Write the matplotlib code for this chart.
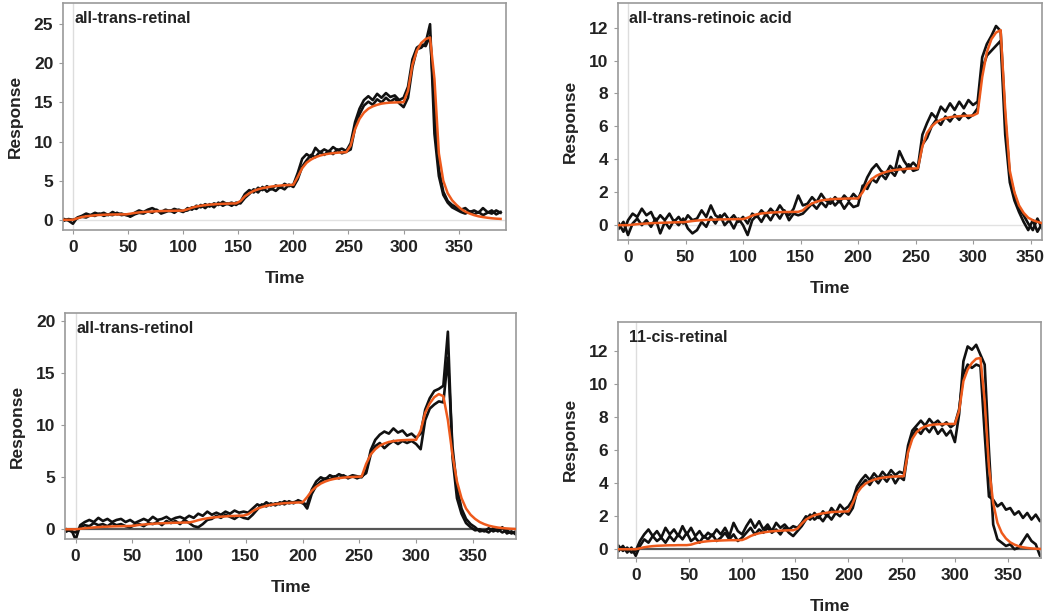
import numpy as np
import matplotlib
matplotlib.use("Agg")
import matplotlib.pyplot as plt

plt.rcParams.update({
    "font.family": ["Liberation Sans", "DejaVu Sans"],
    "font.weight": "bold",
    "font.size": 10,
    "axes.labelweight": "bold",
})

C_FIT = "#EE5A1C"
C_TRACE = "#111111"
C_SPINE = "#9a9a9a"

# ── data (4 s sampling) ─────────────────────────────────────────────────────
# panel a: all-trans-retinal, t = -8 .. 388
t_retinal = np.arange(-8, 389, 4)
retinal_fit = [
    0, 0, 0, 0.2, 0.35, 0.45, 0.52, 0.58, 0.62, 0.65, 0.67, 0.68, 0.69, 0.7, 0.7,
    0.78, 0.88, 0.95, 1.0, 1.04, 1.07, 1.1, 1.12, 1.14, 1.15, 1.16, 1.17, 1.18,
    1.35, 1.55, 1.7, 1.8, 1.88, 1.94, 1.98, 2.02, 2.05, 2.07, 2.09, 2.1,
    2.4, 3.0, 3.4, 3.7, 3.9, 4.05, 4.15, 4.25, 4.32, 4.38, 4.42, 4.45, 4.48,
    5.5, 6.6, 7.3, 7.7, 8.0, 8.2, 8.35, 8.45, 8.52, 8.58, 8.62, 8.65,
    9.5, 11.6, 12.9, 13.7, 14.2, 14.5, 14.7, 14.85, 14.93, 14.98, 15.0, 15.02, 15.03,
    16.5, 19.8, 21.6, 22.6, 23.1, 23.3, 18.0, 8.5, 5.0, 3.4, 2.5, 1.9, 1.4, 1.05,
    0.8, 0.6, 0.45, 0.35, 0.27, 0.2, 0.15, 0.12]
retinal_a = [
    0.1, -0.1, -0.5, 0.3, 0.5, 0.8, 0.6, 0.9, 0.7, 0.9, 0.6, 1.0, 0.7, 0.8, 0.6,
    0.5, 0.9, 1.2, 1.0, 1.3, 1.5, 1.2, 1.0, 1.3, 1.1, 1.4, 1.2, 1.0,
    1.5, 1.3, 1.8, 1.6, 2.0, 1.7, 2.1, 1.9, 2.3, 2.0, 2.2, 1.9,
    2.3, 3.3, 3.8, 3.5, 4.1, 3.8, 4.3, 3.9, 4.4, 4.1, 4.6, 4.3, 4.5,
    6.0, 7.8, 8.4, 8.0, 9.2, 8.6, 9.0, 8.7, 9.3, 8.9, 9.1, 8.8,
    9.8, 12.5, 14.2, 15.3, 15.8, 15.3, 16.1, 15.6, 16.2, 15.7, 15.9, 15.3, 15.6,
    17.0, 20.5, 22.0, 22.4, 22.2, 23.5, 14.5, 6.5, 3.6, 2.4, 1.9, 1.6, 1.3, 1.5,
    1.0, 1.2, 0.9, 1.5, 1.0, 0.8, 1.2, 0.9]
retinal_b = [
    -0.1, 0.1, 0.0, 0.2, 0.4, 0.3, 0.6, 0.5, 0.8, 0.5, 0.7, 0.6, 0.9, 0.6, 0.7,
    0.4, 0.7, 0.9, 0.8, 1.1, 0.9, 1.3, 0.8, 1.0, 1.2, 0.9, 1.3, 1.1,
    1.2, 1.6, 1.4, 1.9, 1.5, 2.0, 1.6, 2.2, 1.8, 2.1, 1.8, 2.2,
    2.1, 2.8, 3.3, 3.9, 3.5, 4.2, 3.6, 4.0, 3.7, 4.2, 3.9, 4.5, 4.2,
    5.2, 6.8, 7.6, 8.3, 8.0, 8.7, 8.3, 8.8, 8.4, 9.0, 8.5, 8.7,
    9.0, 11.8, 13.5, 14.6, 15.1, 14.7, 15.4, 15.0, 15.6, 15.1, 15.5, 14.9, 14.4,
    15.6, 19.5, 21.8, 22.0, 22.6, 25.0, 11.0, 5.6, 3.2, 2.2, 1.6, 1.3, 1.0, 0.8,
    1.1, 0.7, 1.0, 0.6, 0.9, 1.2, 0.7, 1.0]

# panel b: all-trans-retinoic acid, t = -8 .. 364
t_acid = np.arange(-8, 365, 4)
acid_fit = [
    0, 0, 0.0, 0.03, 0.06, 0.08, 0.1, 0.12, 0.13, 0.14, 0.15, 0.16, 0.17, 0.18, 0.18,
    0.21, 0.25, 0.28, 0.3, 0.32, 0.33, 0.34, 0.35, 0.35, 0.36, 0.36, 0.37, 0.37,
    0.45, 0.58, 0.66, 0.71, 0.74, 0.76, 0.78, 0.79, 0.8, 0.8, 0.81, 0.81,
    0.9, 1.15, 1.32, 1.43, 1.5, 1.54, 1.57, 1.59, 1.6, 1.61, 1.62, 1.62, 1.62,
    2.0, 2.5, 2.8, 3.0, 3.13, 3.23, 3.3, 3.35, 3.38, 3.41, 3.43, 3.44, 3.45,
    4.8, 5.6, 6.0, 6.25, 6.4, 6.5, 6.56, 6.6, 6.62, 6.64, 6.65, 6.66,
    6.8, 9.0, 10.5, 11.3, 11.7, 11.85, 7.0, 3.3, 2.0, 1.2, 0.75, 0.45, 0.3, 0.2,
    0.12, 0.08]
acid_a = [
    0.1, -0.4, 0.3, 0.7, 0.5, 1.0, 0.6, 0.8, 0.2, 0.6, 0.3, 0.7, 0.2, 0.5, 0.1,
    0.6, 0.3, 0.4, 0.9, 0.5, 1.2, 0.6, 0.4, 0.7, 0.3, 0.6, 0.2, 0.5,
    0.1, 0.7, 0.5, 0.9, 0.6, 1.0, 0.7, 1.2, 0.8, 0.6, 1.0, 1.8,
    1.2, 1.3, 1.7, 1.4, 1.9, 1.5, 1.3, 1.7, 1.4, 1.8, 1.5, 1.9, 1.6,
    2.2, 2.9, 3.4, 3.7, 3.3, 3.1, 3.6, 3.3, 4.5, 3.9, 3.5, 3.8, 3.5,
    5.5, 6.2, 6.8, 6.5, 7.2, 6.9, 7.4, 7.0, 7.5, 7.1, 7.6, 7.3,
    7.5, 10.2, 11.0, 11.5, 12.1, 11.8, 6.5, 3.0, 1.9, 1.0, 0.6, 0.1, -0.3, 0.4,
    -0.2, -0.5]
acid_b = [
    -0.2, 0.2, -0.6, 0.1, 0.4, 0.0, 0.3, -0.1, 0.4, -0.5, 0.2, -0.2, 0.3, 0.0, 0.4,
    -0.2, -0.5, -0.3, 0.2, -0.1, 0.5, 0.1, 0.6, 0.0, 0.3, -0.2, 0.4, 0.0,
    -0.6, 0.3, 0.6, 0.2, 0.7, 0.3, 0.8, 0.4, 0.9, 0.3, 0.7, 0.6,
    0.7, 1.0, 1.3, 1.0, 1.4, 1.1, 1.6, 1.2, 1.5, 1.0, 1.4, 1.1, 1.2,
    2.4, 2.2, 2.8, 2.6, 3.1, 2.8, 3.3, 3.0, 3.6, 3.2, 3.7, 3.3, 3.4,
    4.9, 5.3, 6.0, 6.4, 6.1, 6.6, 6.3, 6.7, 6.4, 6.8, 6.5, 6.7,
    7.1, 9.5, 10.3, 10.6, 10.9, 11.2, 5.5, 2.6, 1.5, 0.8, 0.2, -0.3, 0.3, -0.4,
    0.1, -0.7]

# panel c: all-trans-retinol, t = -8 .. 388
t_retinol = np.arange(-8, 389, 4)
retinol_fit = [
    0, 0, 0, 0.05, 0.1, 0.14, 0.18, 0.21, 0.24, 0.26, 0.28, 0.29, 0.3, 0.31, 0.32,
    0.36, 0.42, 0.46, 0.5, 0.53, 0.56, 0.58, 0.6, 0.62, 0.63, 0.64, 0.65, 0.66,
    0.75, 0.88, 0.98, 1.06, 1.12, 1.17, 1.21, 1.24, 1.27, 1.29, 1.31, 1.32,
    1.45, 1.75, 1.98, 2.14, 2.26, 2.35, 2.42, 2.47, 2.51, 2.54, 2.56, 2.58, 2.59,
    3.1, 3.7, 4.1, 4.4, 4.6, 4.75, 4.85, 4.92, 4.97, 5.01, 5.03, 5.05, 5.07,
    6.3, 7.2, 7.7, 8.05, 8.25, 8.4, 8.48, 8.54, 8.57, 8.59, 8.6, 8.6,
    9.5, 11.2, 12.1, 12.7, 13.0, 12.8, 10.5, 7.2, 4.6, 3.0, 2.0, 1.4, 1.0, 0.7,
    0.5, 0.35, 0.25, 0.17, 0.12, 0.08, 0.05, 0.03]
retinol_a = [
    -0.2, 0.0, -1.0, 0.4, 0.7, 0.9, 0.7, 1.1, 0.8, 1.0, 0.7, 0.9, 1.0, 0.7, 0.9,
    0.6, 0.8, 1.0, 0.8, 1.2, 0.9, 1.0, 1.2, 0.9, 1.1, 1.2, 1.0, 1.3,
    1.1, 1.5, 1.3, 1.7, 1.4, 1.6, 1.4, 1.7, 1.5, 1.8, 1.6, 1.7,
    1.6, 2.0, 2.4, 2.2, 2.6, 2.3, 2.5, 2.4, 2.7, 2.5, 2.6, 2.7, 2.5,
    2.4, 3.8, 4.6, 5.0, 4.8, 5.2, 5.0, 5.3, 5.1, 5.0, 5.2, 5.1, 5.0,
    5.6, 7.6, 8.6, 9.1, 9.4, 9.2, 9.7, 9.3, 9.5, 9.0, 9.2, 8.8,
    9.2, 11.5, 12.6, 13.3, 13.5, 13.8, 19.0, 7.0, 3.0, 1.5, 0.6, 0.2, -0.1, 0.0,
    -0.2, 0.1, -0.2, 0.0, -0.3, -0.1, -0.4, -0.2]
retinol_b = [
    0.0, -0.2, -0.3, 0.2, 0.4, 0.3, 0.6, 0.4, 0.5, 0.3, 0.6, 0.4, 0.5, 0.3, 0.2,
    0.4, 0.5, 0.3, 0.6, 0.5, 0.7, 0.4, 0.8, 0.6, 0.8, 0.5, 0.9, 0.6,
    0.3, 0.2, 0.5, 0.9, 1.0, 1.3, 1.1, 1.4, 1.2, 1.0, 1.3, 1.1,
    1.0, 1.4, 1.9, 2.4, 2.2, 2.5, 2.3, 2.6, 2.4, 2.7, 2.5, 2.8, 2.6,
    2.0, 3.4, 4.2, 4.6, 4.9, 4.8, 5.1, 4.9, 5.2, 4.9, 5.1, 4.9, 5.1,
    5.4, 7.2, 8.0, 8.3, 7.8, 8.2, 8.5, 8.2, 8.5, 8.3, 8.5, 8.2,
    7.7, 10.5, 11.6, 12.0, 12.3, 12.2, 16.5, 8.0, 4.0, 2.0, 1.0, 0.5, 0.2, -0.2,
    -0.1, -0.3, 0.1, -0.2, 0.2, -0.4, -0.2, -0.5]

# panel d: 11-cis-retinal, t = -16 .. 384
t_cis = np.arange(-16, 385, 4)
cis_fit = [
    0, 0, 0, 0, 0, 0.06, 0.12, 0.16, 0.19, 0.21, 0.22, 0.23, 0.24, 0.24, 0.25, 0.25, 0.25,
    0.28, 0.36, 0.42, 0.46, 0.49, 0.51, 0.52, 0.53, 0.54, 0.55, 0.55, 0.55, 0.56,
    0.66, 0.8, 0.9, 0.97, 1.02, 1.06, 1.09, 1.11, 1.13, 1.14, 1.15, 1.15,
    1.25, 1.55, 1.8, 1.95, 2.06, 2.13, 2.18, 2.22, 2.25, 2.27, 2.28, 2.29, 2.3,
    2.8, 3.4, 3.75, 3.98, 4.12, 4.22, 4.29, 4.34, 4.37, 4.4, 4.41, 4.42, 4.43,
    5.9, 6.7, 7.1, 7.32, 7.45, 7.52, 7.56, 7.58, 7.59, 7.6, 7.6, 7.6,
    8.4, 10.2, 10.9, 11.3, 11.55, 11.6, 9.0, 5.0, 2.8, 1.6, 1.0, 0.65, 0.42, 0.28,
    0.18, 0.12, 0.08, 0.05, 0.03, 0.02, 0.01]
cis_a = [
    0.2, -0.1, 0.1, -0.2, -0.1, 0.5, 0.9, 1.2, 0.8, 1.1, 0.7, 1.3, 0.9, 1.2, 0.8, 1.4, 0.9,
    1.3, 0.8, 1.1, 0.7, 1.0, 0.8, 1.2, 0.9, 1.3, 0.8, 1.6, 1.1, 0.9,
    1.4, 1.8, 1.3, 1.7, 1.2, 1.5, 1.1, 1.6, 1.3, 1.5, 1.2, 1.4,
    1.3, 1.6, 2.0, 1.8, 2.2, 1.9, 2.3, 2.0, 2.5, 2.2, 2.7, 2.4, 2.6,
    3.0, 3.8, 4.2, 4.5, 4.2, 4.6, 4.3, 4.7, 4.4, 4.8, 4.5, 4.7, 4.6,
    6.3, 7.2, 7.5, 7.8, 7.5, 7.9, 7.6, 7.8, 7.5, 7.7, 7.4, 7.6,
    8.5, 10.6, 11.2, 11.0, 11.2, 11.1, 7.0, 3.2, 3.0, 2.6, 2.8, 2.4, 2.5, 2.1,
    2.3, 1.9, 2.2, 1.8, 2.1, 1.7, 1.9]
cis_b = [
    -0.1, 0.2, -0.2, 0.1, -0.4, 0.2, 0.6, 0.4, 0.8, 0.5, 0.7, 0.4, 0.8, 0.5, 0.9, 0.6, 1.0,
    0.5, 0.7, 0.4, 0.8, 0.6, 0.9, 0.5, 0.7, 1.0, 0.6, 0.9, 0.5, 0.7,
    1.0, 1.3, 0.9, 1.2, 1.0, 1.3, 1.0, 1.2, 0.9, 1.3, 1.0, 0.8,
    1.1, 1.4, 1.8, 2.1, 1.8, 2.0, 1.7, 2.1, 1.8, 2.2, 2.0, 2.3, 2.1,
    2.5, 3.5, 3.9, 4.2, 3.9, 4.3, 4.0, 4.4, 4.1, 4.5, 4.0, 4.4, 4.2,
    6.0, 6.9, 7.3, 7.0, 7.4, 7.1, 7.5, 7.0, 7.3, 6.9, 7.2, 6.5,
    8.2, 11.4, 12.3, 12.1, 12.4, 11.8, 11.2, 6.0, 1.5, 0.6, 0.4, 0.2, 0.3, 0.0,
    0.1, 0.5, 0.9, 0.5, 0.3, -0.4, -0.2]

panels = [
    # name, time, fit, traces, xlim, ylim, yticks, ref-line style at y=0, axes rect
    ("all-trans-retinal", t_retinal, retinal_fit, [retinal_a, retinal_b],
     (-9, 393), (-1.3, 27.7), [0, 5, 10, 15, 20, 25], "light",
     [0.060, 0.626, 0.422, 0.369]),
    ("all-trans-retinoic acid", t_acid, acid_fit, [acid_a, acid_b],
     (-8.7, 360), (-0.9, 13.5), [0, 2, 4, 6, 8, 10, 12], "light",
     [0.5886, 0.6098, 0.4038, 0.3854]),
    ("all-trans-retinol", t_retinol, retinol_fit, [retinol_a, retinol_b],
     (-9.4, 388), (-0.93, 20.8), [0, 5, 10, 15, 20], "dark",
     [0.0619, 0.1236, 0.4295, 0.3675]),
    ("11-cis-retinal", t_cis, cis_fit, [cis_a, cis_b],
     (-16.6, 381), (-0.53, 13.8), [0, 2, 4, 6, 8, 10, 12], "dark",
     [0.5886, 0.0927, 0.4029, 0.3842]),
]

fig = plt.figure(figsize=(10.5, 6.15), dpi=100)

for name, t, fit, traces, xlim, ylim, yticks, ref, rect in panels:
    ax = fig.add_axes(rect)
    ax.axvline(0, color="#dddddd", lw=1.0, zorder=0)
    if ref == "light":
        ax.axhline(0, color="#e2e2e2", lw=1.0, zorder=0)
    else:
        ax.axhline(0, color="#555555", lw=1.6, zorder=1)
    for tr in traces:
        ax.plot(t, tr, color=C_TRACE, lw=1.9, zorder=2)
    ax.plot(t, fit, color=C_FIT, lw=1.8, zorder=3)

    ax.set_xlim(*xlim)
    ax.set_ylim(*ylim)
    ax.set_xticks([0, 50, 100, 150, 200, 250, 300, 350])
    ax.set_yticks(yticks)
    for sp in ax.spines.values():
        sp.set_color(C_SPINE)
        sp.set_linewidth(1.2)
    ax.tick_params(length=3, width=0.8, color=C_SPINE, labelsize=12.5, pad=4)
    for lab in ax.get_xticklabels() + ax.get_yticklabels():
        lab.set_fontweight("bold")
        lab.set_color("#222222")
    ax.set_xlabel("Time", fontsize=12.5, fontweight="bold", labelpad=12, color="#222222")
    ax.set_ylabel("Response", fontsize=12.5, fontweight="bold", labelpad=8, color="#222222")
    ax.text(0.025, 0.965, name, transform=ax.transAxes, ha="left", va="top",
            fontsize=11.5, fontweight="bold", color="#222222")

fig.savefig("out.png", dpi=100)
